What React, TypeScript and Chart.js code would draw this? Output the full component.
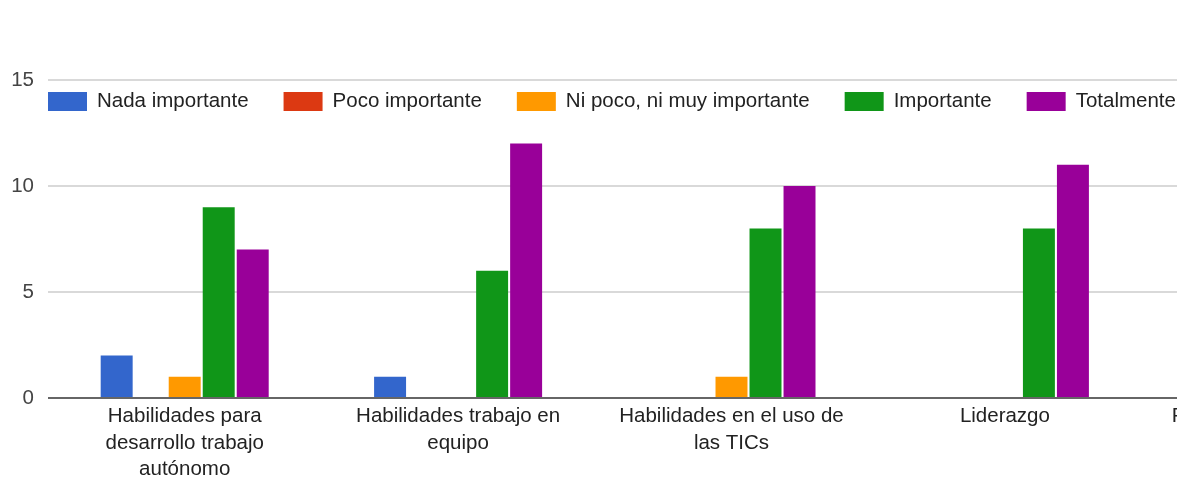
import React, { useEffect, useRef } from 'react';
import { Chart, registerables } from 'chart.js';

Chart.register(...registerables);

const categories: string[][] = [
  ['Habilidades para', 'desarrollo trabajo', 'autónomo'],
  ['Habilidades trabajo en', 'equipo'],
  ['Habilidades en el uso de', 'las TICs'],
  ['Liderazgo'],
  ['Formación en valores y', 'ética'],
];

const seriesNames = [
  'Nada importante',
  'Poco importante',
  'Ni poco, ni muy importante',
  'Importante',
  'Totalmente importante',
];

const nadaImportante = [2, 1, 0, 0, 0];
const pocoImportante = [0, 0, 0, 0, 0];
const niPocoNiMuy = [1, 0, 1, 0, 1];
const importante = [9, 6, 8, 8, 9];
const totalmenteImportante = [7, 12, 10, 11, 9];

const seriesColors = ['#3366CC', '#DC3912', '#FF9900', '#109618', '#990099'];

const yTicks = [0, 5, 10, 15];

const FONT = '"Liberation Sans", Arial, sans-serif';

const insideLegend = {
  id: 'insideLegend',
  afterDraw(chart: any) {
    const ctx = chart.ctx as CanvasRenderingContext2D;
    const area = chart.chartArea;
    ctx.save();
    ctx.font = `20.5px ${FONT}`;
    ctx.textBaseline = 'middle';
    ctx.textAlign = 'left';
    let x = area.left;
    const top = area.top + 12;
    chart.data.datasets.forEach((ds: any) => {
      ctx.fillStyle = ds.backgroundColor;
      ctx.fillRect(x, top, 39, 19);
      ctx.fillStyle = '#222222';
      ctx.fillText(ds.label, x + 49, top + 9);
      x += 49 + ctx.measureText(ds.label).width + 35;
    });
    ctx.restore();
  },
};

export default function App() {
  const canvasRef = useRef<HTMLCanvasElement | null>(null);

  useEffect(() => {
    if (!canvasRef.current) return;
    const values = [nadaImportante, pocoImportante, niPocoNiMuy, importante, totalmenteImportante];
    const chart = new Chart(canvasRef.current, {
      type: 'bar',
      data: {
        labels: categories,
        datasets: seriesNames.map((name, i) => ({
          label: name,
          data: values[i],
          backgroundColor: seriesColors[i],
          borderWidth: 0,
          barPercentage: 0.94,
          categoryPercentage: 0.622,
        })),
      },
      options: {
        animation: false,
        responsive: true,
        maintainAspectRatio: false,
        layout: { padding: { top: 80, left: 0, right: 15, bottom: 0 } },
        plugins: {
          legend: { display: false },
          tooltip: { enabled: false },
        },
        scales: {
          x: {
            grid: { display: false, drawTicks: false },
            border: { display: false },
            ticks: {
              color: '#222222',
              font: { family: FONT, size: 20.5, lineHeight: 1.3 },
              padding: 5,
              maxRotation: 0,
              minRotation: 0,
              autoSkip: false,
            },
            afterFit: (scale: any) => {
              scale.height = 83;
            },
          },
          y: {
            min: 0,
            max: 15,
            afterBuildTicks: (scale: any) => {
              scale.ticks = yTicks.map((v) => ({ value: v }));
            },
            grid: {
              drawTicks: false,
              color: (c: any) => (c.tick && c.tick.value === 0 ? '#666666' : '#d9d9d9'),
              lineWidth: 2,
            },
            border: { display: false },
            ticks: {
              color: '#444444',
              font: { family: FONT, size: 20.5 },
              padding: 14,
            },
            afterFit: (scale: any) => {
              scale.width = 48;
            },
          },
        },
      },
      plugins: [insideLegend],
    });
    return () => chart.destroy();
  }, []);

  return (
    <div
      style={{
        position: 'absolute',
        left: 0,
        top: 0,
        width: 1177,
        height: 481,
        overflow: 'hidden',
        background: '#ffffff',
      }}
    >
      <div style={{ position: 'relative', width: 1430, height: 481 }}>
        <canvas ref={canvasRef} />
      </div>
    </div>
  );
}
